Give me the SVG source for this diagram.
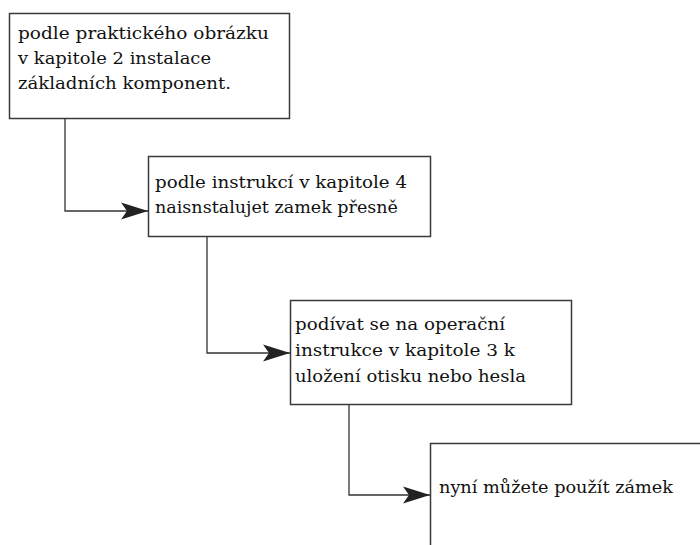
<svg xmlns="http://www.w3.org/2000/svg" width="700" height="545" viewBox="0 0 700 545">
<defs>
<style>
.box{fill:#fff;stroke:#3a3a3a;stroke-width:1.5}
.t{font-family:"DejaVu Serif","Liberation Serif",serif;font-size:16px;fill:#111}
.c{fill:none;stroke:#333;stroke-width:1.3}
</style>
<marker id="ah" markerWidth="28" markerHeight="18" refX="27" refY="9" orient="auto" markerUnits="userSpaceOnUse">
<path d="M27,9 L0,0.5 L6,9 L0,17.5 Z" fill="#222"/>
</marker>
</defs>
<rect width="700" height="545" fill="#fff"/>
<g id="n1">
<rect class="box" x="9.5" y="13.5" width="280" height="105"/>
<text class="t" x="18" y="39" textLength="251" lengthAdjust="spacingAndGlyphs">podle praktického obrázku</text>
<text class="t" x="18" y="64" textLength="193" lengthAdjust="spacingAndGlyphs">v kapitole 2 instalace</text>
<text class="t" x="18" y="89" textLength="213" lengthAdjust="spacingAndGlyphs">základních komponent.</text>
</g>
<g id="n2">
<rect class="box" x="148.5" y="156.5" width="282" height="80"/>
<text class="t" x="155" y="188" textLength="252" lengthAdjust="spacingAndGlyphs">podle instrukcí v kapitole 4</text>
<text class="t" x="155" y="213" textLength="243" lengthAdjust="spacingAndGlyphs">naisnstalujet zamek přesně</text>
</g>
<g id="n3">
<rect class="box" x="290.5" y="300.5" width="281" height="104"/>
<text class="t" x="295" y="330" textLength="210" lengthAdjust="spacingAndGlyphs">podívat se na operační</text>
<text class="t" x="295" y="356" textLength="220" lengthAdjust="spacingAndGlyphs">instrukce v kapitole 3 k</text>
<text class="t" x="295" y="382" textLength="231" lengthAdjust="spacingAndGlyphs">uložení otisku nebo hesla</text>
</g>
<g id="n4">
<rect class="box" x="430.5" y="443.5" width="300" height="120"/>
<text class="t" x="439" y="493" textLength="234" lengthAdjust="spacingAndGlyphs">nyní můžete použít zámek</text>
</g>
<g id="connectors">
<path class="c" d="M65,119 V211 H148" marker-end="url(#ah)"/>
<path class="c" d="M207,237 V353 H290" marker-end="url(#ah)"/>
<path class="c" d="M349,405 V495 H430" marker-end="url(#ah)"/>
</g>
</svg>
